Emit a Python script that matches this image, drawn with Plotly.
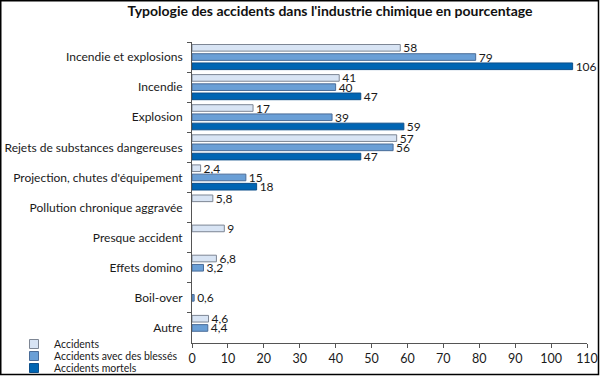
import plotly.graph_objects as go

categories = [
    "Incendie et explosions",
    "Incendie",
    "Explosion",
    "Rejets de substances dangereuses",
    "Projection, chutes d'équipement",
    "Pollution chronique aggravée",
    "Presque accident",
    "Effets domino",
    "Boil-over",
    "Autre",
]
accidents = [58, 41, 17, 57, 2.4, 5.8, 9, 6.8, None, 4.6]
blesses = [79, 40, 39, 56, 15, None, None, 3.2, 0.6, 4.4]
mortels = [106, 47, 59, 47, 18, None, None, None, None, None]

series_names = ["Accidents", "Accidents avec des blessés", "Accidents mortels"]
x_ticks = list(range(0, 111, 10))

W, H = 600, 377
ML, MR, MT, MB = 192, 13, 42, 34
PW = W - ML - MR
PH = H - MT - MB

FONT = "Lato"


def fmt(v):
    return "" if v is None else f"{v:g}".replace(".", ",")


fills = ["#d8e4f4", "#6a9fd6", "#0065b3"]
outlines = ["#7d8694", "#4a6c98", "#0d4f8a"]

fig = go.Figure()
for i, (name, vals) in enumerate(zip(series_names, [accidents, blesses, mortels])):
    fig.add_trace(go.Bar(
        y=categories, x=vals, name=name, orientation="h",
        marker=dict(color=fills[i], line=dict(color=outlines[i], width=1)),
        text=[fmt(v) for v in vals], textposition="outside",
        textfont=dict(family=FONT, size=12, color="#1a1a1a"),
        constraintext="none", cliponaxis=False, showlegend=False,
    ))

# legend entries (square swatches like the reference)
for i, name in enumerate(series_names):
    fig.add_trace(go.Scatter(
        x=[None], y=[None], mode="markers", name=name,
        marker=dict(symbol="square", size=9, color=fills[i],
                    line=dict(color=outlines[i], width=1)),
        legend="legend" if i == 0 else f"legend{i+1}",
        hoverinfo="skip",
    ))


def px2x(px):
    return (px - ML) / PW


def py2y(py):
    return (H - MB - py) / PH


legend_common = dict(font=dict(family=FONT, size=10.5, color="#1a1a1a"),
                     bgcolor="rgba(0,0,0,0)", xanchor="left", yanchor="middle",
                     borderwidth=0, itemwidth=30)
legend_y = [344, 356, 368]
leg = {}
for i, ly in enumerate(legend_y):
    key = "legend" if i == 0 else f"legend{i+1}"
    leg[key] = dict(x=px2x(14), y=py2y(ly), **legend_common)

fig.update_layout(
    width=W, height=H,
    margin=dict(l=ML, r=MR, t=MT, b=MB, autoexpand=False),
    paper_bgcolor="white", plot_bgcolor="white",
    barmode="group", bargap=0.08, bargroupgap=0.28,
    showlegend=True,
    title=dict(text="<b>Typologie des accidents dans l'industrie chimique en pourcentage</b>",
               x=330 / W, xanchor="center", y=1 - 11 / H, yanchor="middle",
               font=dict(family=FONT, size=14, color="#111")),
    font=dict(family=FONT, size=12, color="#1a1a1a"),
    xaxis=dict(range=[0, 110], tickvals=x_ticks, ticks="outside", ticklen=4,
               tickcolor="#555", showline=True, linecolor="#555", linewidth=1,
               showgrid=False, zeroline=False, automargin=False,
               tickfont=dict(family=FONT, size=12.5, color="#1a1a1a")),
    yaxis=dict(autorange="reversed", ticks="outside", ticklen=4, tickson="boundaries",
               tickcolor="#555", showline=True, linecolor="#555", linewidth=1,
               showgrid=False, ticklabelstandoff=6, automargin=False,
               tickfont=dict(family=FONT, size=12, color="#1a1a1a")),
    shapes=[dict(type="rect", xref="paper", yref="paper",
                 x0=px2x(0.75), x1=px2x(598.5), y0=py2y(0.75), y1=py2y(374.5),
                 line=dict(color="black", width=1.5), layer="above")],
    **leg,
)

fig.write_html("out.html", config={"displayModeBar": False},
               post_script="document.body.style.margin='0';")
